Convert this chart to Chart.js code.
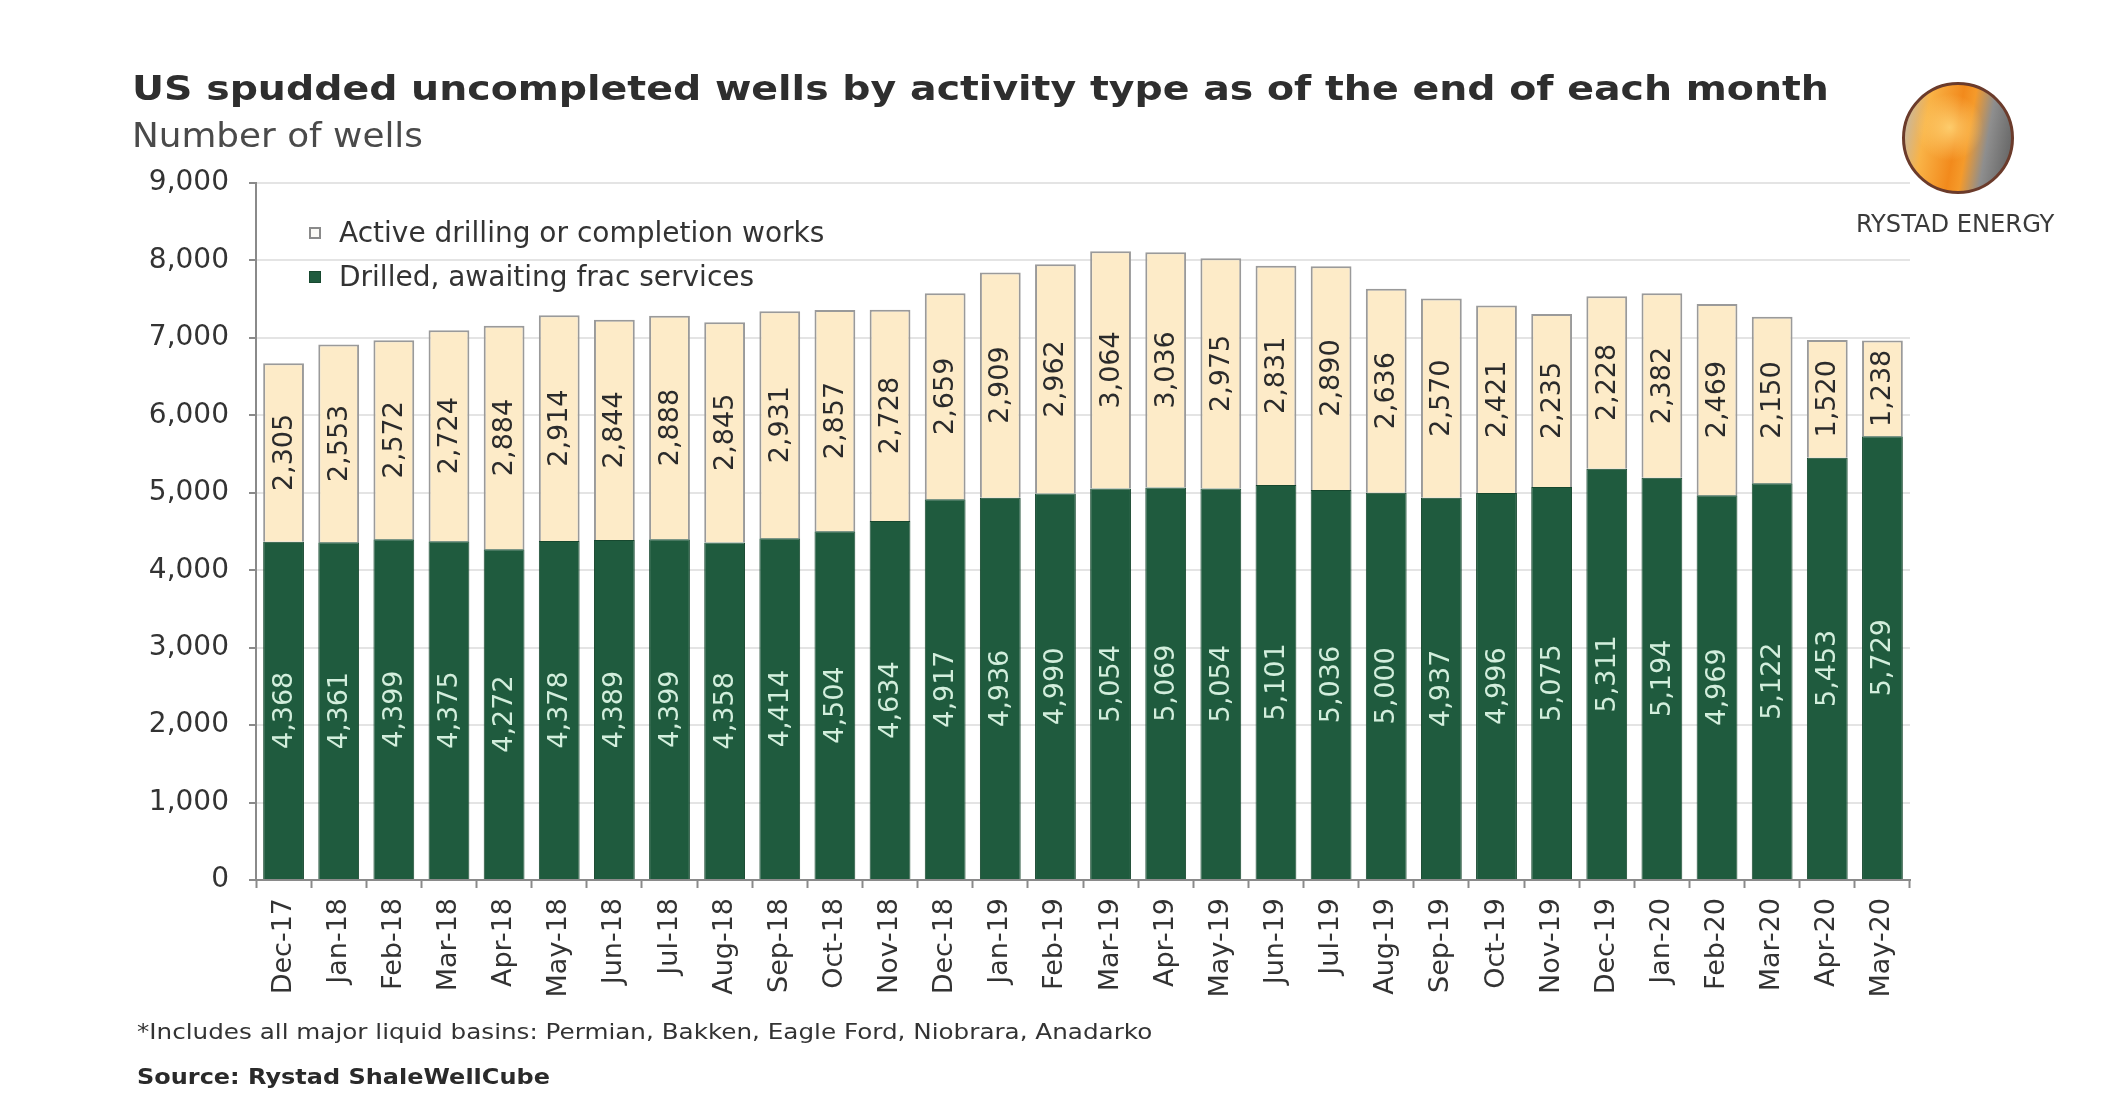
<!DOCTYPE html>
<html>
<head>
<meta charset="utf-8">
<script src="https://cdn.jsdelivr.net/npm/chart.js@4.4.1/dist/chart.umd.min.js"></script>
<style>
    body { margin: 0; background: #fff; overflow: hidden; }
    #wrap { position: relative; width: 2116px; height: 1114px; }
    #chart { position: absolute; left: 0; top: 0; }
    .txt { position: absolute; line-height: 1; white-space: nowrap; font-family: "DejaVu Sans", Verdana, sans-serif; transform-origin: 0 0; }
    #title { left: 132px; top: 71px; font-size: 34px; font-weight: bold; color: #2e2e2e; transform: scaleX(1.16); }
    #subtitle { left: 132px; top: 119px; font-size: 33px; color: #4a4a4a; transform: scaleX(1.085); }
    #note { left: 137px; top: 1021px; font-size: 22px; color: #333; transform: scaleX(1.12); }
    #source { left: 137px; top: 1066px; font-size: 22px; font-weight: bold; color: #2a2a2a; transform: scaleX(1.09); }
    #legend .row { position: absolute; left: 309px; height: 30px; }
    #legend .box { position: absolute; left: 0; top: 9px; width: 12px; height: 12px; box-sizing: border-box; }
    #legend .lbl { position: absolute; left: 30px; top: 1px; font-size: 28px; color: #333; }
    #logo { position: absolute; left: 1902px; top: 82px; width: 112px; height: 112px; border-radius: 50%;
        box-sizing: border-box; border: 3px solid #6b3b2b;
        background:
            radial-gradient(circle at 42% 40%, rgba(255, 214, 120, 0.85) 0%, rgba(255, 190, 80, 0) 38%),
            linear-gradient(100deg, #b9b9b9 0%, #f9b347 22%, #f28a1c 48%, #f59a2a 58%, #8e8e8e 74%, #5d5d5d 100%); }
    #brand { left: 1856px; top: 212px; font-size: 24px; font-family: "DejaVu Sans Condensed", "DejaVu Sans", sans-serif; color: #3a3a3a; transform: scaleX(1.12); }
</style>
</head>
<body>
<div id="wrap">
    <canvas id="chart" width="2116" height="1114"></canvas>
    <div class="txt" id="title">US spudded uncompleted wells by activity type as of the end of each month</div>
    <div class="txt" id="subtitle">Number of wells</div>
    <div id="legend"></div>
    <div id="logo"></div>
    <div class="txt" id="brand">RYSTAD ENERGY</div>
    <div class="txt" id="note">*Includes all major liquid basins: Permian, Bakken, Eagle Ford, Niobrara, Anadarko</div>
    <div class="txt" id="source">Source: Rystad ShaleWellCube</div>
</div>
<script>
// months, end of each month
const months = ['Dec-17', 'Jan-18', 'Feb-18', 'Mar-18', 'Apr-18', 'May-18', 'Jun-18', 'Jul-18', 'Aug-18', 'Sep-18',
    'Oct-18', 'Nov-18', 'Dec-18', 'Jan-19', 'Feb-19', 'Mar-19', 'Apr-19', 'May-19', 'Jun-19', 'Jul-19',
    'Aug-19', 'Sep-19', 'Oct-19', 'Nov-19', 'Dec-19', 'Jan-20', 'Feb-20', 'Mar-20', 'Apr-20', 'May-20'];

// drilled, awaiting frac services
const drilled = [4368, 4361, 4399, 4375, 4272, 4378, 4389, 4399, 4358, 4414,
    4504, 4634, 4917, 4936, 4990, 5054, 5069, 5054, 5101, 5036,
    5000, 4937, 4996, 5075, 5311, 5194, 4969, 5122, 5453, 5729];

// active drilling or completion works
const active = [2305, 2553, 2572, 2724, 2884, 2914, 2844, 2888, 2845, 2931,
    2857, 2728, 2659, 2909, 2962, 3064, 3036, 2975, 2831, 2890,
    2636, 2570, 2421, 2235, 2228, 2382, 2469, 2150, 1520, 1238];

const yTicks = [0, 1000, 2000, 3000, 4000, 5000, 6000, 7000, 8000, 9000];

const green = '#1f5b3e';
const cream = '#fdebc8';

function fmt(v) {
    return v.toLocaleString('en-US');
}

// value labels in the middle of each bar segment, turned to read upwards
const barLabels = {
    id: 'barLabels',
    afterDatasetsDraw(chart) {
        const ctx = chart.ctx;
        ctx.save();
        ctx.font = '27px "DejaVu Sans"';
        ctx.textAlign = 'center';
        ctx.textBaseline = 'middle';
        chart.data.datasets.forEach((ds, i) => {
            const meta = chart.getDatasetMeta(i);
            ctx.fillStyle = ds.labelColor;
            meta.data.forEach((bar, j) => {
                const p = bar.getProps(['x', 'y', 'base'], true);
                ctx.save();
                ctx.translate(p.x, (p.y + p.base) / 2);
                ctx.rotate(-Math.PI / 2);
                ctx.fillText(fmt(ds.data[j]), 0, 1);
                ctx.restore();
            });
        });
        ctx.restore();
    }
};

const ctx = document.getElementById('chart').getContext('2d');
const chart = new Chart(ctx, {
    type: 'bar',
    data: {
        labels: months,
        datasets: [{
            label: 'Drilled, awaiting frac services',
            data: drilled,
            backgroundColor: green,
            borderColor: '#17482f',
            borderWidth: 1,
            labelColor: '#d2eedc'
        }, {
            label: 'Active drilling or completion works',
            data: active,
            backgroundColor: cream,
            borderColor: '#9a9a9a',
            borderWidth: 2,
            labelColor: '#2b2b2b'
        }]
    },
    options: {
        responsive: false,
        animation: false,
        devicePixelRatio: 1,
        layout: {
            padding: { left: 146, top: 183, right: 206, bottom: 94 }
        },
        datasets: {
            bar: { barPercentage: 0.74, categoryPercentage: 1 }
        },
        plugins: {
            legend: { display: false },
            tooltip: { enabled: false }
        },
        scales: {
            x: {
                stacked: true,
                afterFit: s => { s.height = 140; },
                grid: { drawOnChartArea: false, drawTicks: true, tickLength: 8, tickColor: '#8a8a8a', tickWidth: 2 },
                border: { color: '#8a8a8a', width: 2 },
                ticks: {
                    autoSkip: false, minRotation: 90, maxRotation: 90, padding: 10,
                    color: '#333', font: { family: 'DejaVu Sans', size: 27 }
                }
            },
            y: {
                stacked: true,
                min: 0,
                max: 9000,
                afterFit: s => { s.width = 110; },
                afterBuildTicks: s => { s.ticks = yTicks.map(v => ({ value: v })); },
                grid: { color: '#e4e4e4', lineWidth: 2, tickLength: 7, tickColor: '#8a8a8a', tickWidth: 2 },
                border: { color: '#8a8a8a', width: 2 },
                ticks: {
                    padding: 20, color: '#333', font: { family: 'DejaVu Sans', size: 28 },
                    callback: v => fmt(v)
                }
            }
        }
    },
    plugins: [barLabels]
});

// legend inside the plot, top entry first
const legend = document.getElementById('legend');
chart.data.datasets.slice().reverse().forEach((ds, i) => {
    const row = document.createElement('div');
    row.className = 'row';
    row.style.top = (218 + i * 44) + 'px';
    const box = document.createElement('div');
    box.className = 'box';
    box.style.background = i === 0 ? '#fbfaf6' : ds.backgroundColor;
    box.style.border = i === 0 ? '2px solid #8a8a8a' : '1px solid #17482f';
    const lbl = document.createElement('div');
    lbl.className = 'txt lbl';
    lbl.textContent = ds.label;
    row.appendChild(box);
    row.appendChild(lbl);
    legend.appendChild(row);
});
</script>
</body>
</html>
